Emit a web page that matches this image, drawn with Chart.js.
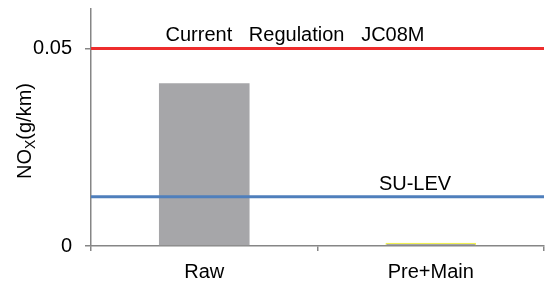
<!DOCTYPE html>
<html>
<head>
<meta charset="utf-8">
<script src="https://cdn.jsdelivr.net/npm/chart.js@4/dist/chart.umd.min.js"></script>
<style>
  html, body { margin: 0; padding: 0; background: #fff; }
  #wrap { width: 545px; height: 284px; }
</style>
</head>
<body>
<div id="wrap"><canvas id="chart"></canvas></div>
<script>
const categories = ["Raw", "Pre+Main"];
const noxValues = [0.0412, 0.0008];
const regulationValue = 0.05;
const sulevValue = 0.0125;
const yTicks = [0, 0.05];

const FONT = "Liberation Sans, Arial, sans-serif";

// text labels over the lines and the y title with subscript
const labelPlugin = {
  id: "labels",
  afterDraw(chart) {
    const ctx = chart.ctx;
    const y = chart.scales.y;
    ctx.save();
    ctx.fillStyle = "#000";
    ctx.font = "20px " + FONT;
    ctx.textAlign = "center";
    ctx.textBaseline = "alphabetic";
    ctx.fillText("Current   Regulation   JC08M", 295, y.getPixelForValue(regulationValue) - 8);
    ctx.fillText("SU-LEV", 415, y.getPixelForValue(sulevValue) - 7);

    // y axis title
    ctx.translate(31, 131);
    ctx.rotate(-Math.PI / 2);
    ctx.textAlign = "left";
    const big = "20px " + FONT, small = "14px " + FONT;
    ctx.font = big;
    const w1 = ctx.measureText("NO").width;
    const w3 = ctx.measureText("(g/km)").width;
    ctx.font = small;
    const w2 = ctx.measureText("X").width;
    let px = -(w1 + w2 + w3) / 2;
    ctx.font = big;
    ctx.fillText("NO", px, 0);
    px += w1;
    ctx.font = small;
    ctx.fillText("X", px, 4);
    px += w2;
    ctx.font = big;
    ctx.fillText("(g/km)", px, 0);
    ctx.restore();
  }
};

new Chart(document.getElementById("chart"), {
  type: "bar",
  data: {
    labels: categories,
    datasets: [
      {
        type: "line",
        xAxisID: "x2",
        data: [{ x: 0, y: regulationValue }, { x: 1, y: regulationValue }],
        borderColor: "#ee2d2d",
        borderWidth: 3,
        pointRadius: 0,
        clip: false,
        order: 0
      },
      {
        type: "line",
        xAxisID: "x2",
        data: [{ x: 0, y: sulevValue }, { x: 1, y: sulevValue }],
        borderColor: "#4f7fbc",
        borderWidth: 3,
        pointRadius: 0,
        clip: false,
        order: 0
      },
      {
        type: "bar",
        xAxisID: "x",
        data: noxValues,
        backgroundColor: "#a6a6a9",
        borderColor: ["#a6a6a9", "#f0f050"],
        borderWidth: [0, { top: 1.5, left: 1, right: 1, bottom: 0 }],
        borderSkipped: "bottom",
        categoryPercentage: 1,
        barPercentage: 0.4,
        grouped: false,
        order: 1
      }
    ]
  },
  options: {
    responsive: true,
    maintainAspectRatio: false,
    animation: false,
    layout: { padding: { top: 9, right: 1, left: 0, bottom: 0 } },
    plugins: { legend: { display: false }, tooltip: { enabled: false } },
    scales: {
      x: {
        type: "category",
        offset: true,
        grid: { drawOnChartArea: false, offset: true, color: "#868686", lineWidth: 1.5, tickLength: 5 },
        border: { color: "#868686", width: 1.5 },
        ticks: { color: "#000", font: { family: FONT, size: 20 }, padding: 9 },
        afterFit(s) { s.height = 38; s.paddingLeft = 0; s.paddingRight = 0; }
      },
      x2: { type: "linear", min: 0, max: 1, offset: false, display: false },
      y: {
        min: 0,
        max: 0.06,
        afterBuildTicks(s) { s.ticks = yTicks.map(v => ({ value: v })); },
        grid: { drawOnChartArea: false, color: "#868686", lineWidth: 1.5, tickLength: 6 },
        border: { color: "#868686", width: 1.5 },
        ticks: { color: "#000", font: { family: FONT, size: 20 }, padding: 13,
          callback: v => String(v) },
        afterFit(s) { s.width = 91; s.paddingTop = 0; s.paddingBottom = 0; }
      }
    }
  },
  plugins: [labelPlugin]
});
</script>
</body>
</html>
